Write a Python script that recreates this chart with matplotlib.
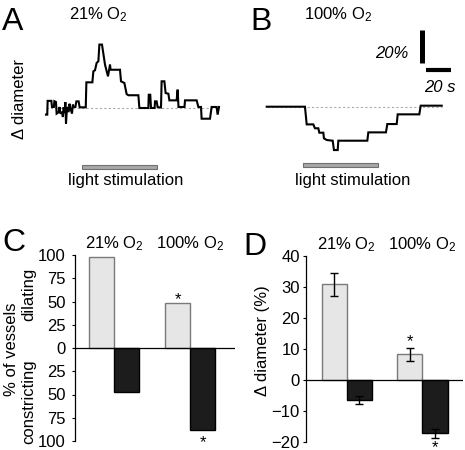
import matplotlib
matplotlib.use('Agg')
import matplotlib.pyplot as plt
from matplotlib.patches import Rectangle

plt.rcParams['font.family'] = ['Liberation Sans', 'DejaVu Sans']
plt.rcParams['font.size'] = 12

W, H = 465, 450

# --- traces (time in s, change in diameter in %) ---
trace_a_t = [0, 1.0, 1.3, 4.3, 4.8, 6.3, 6.7, 8.0, 8.5, 10.1,
             10.8, 11.5, 12.8, 13.5, 14.1, 14.8, 15.5, 16.0, 16.8, 18.1,
             18.8, 19.5, 20.8, 21.5, 22.1, 23.5, 24.3, 26.1, 26.9, 31.8,
             32.3, 37.1, 37.9, 39.2, 40.5, 41.9, 42.7, 44.8, 47.2, 49.6,
             51.2, 51.7, 59.2, 60.0, 62.7, 64.5, 65.9, 73.9, 74.7, 81.9,
             82.2, 83.4, 84.0, 86.9, 87.2, 88.5, 89.3, 92.0, 92.5, 94.7,
             95.7, 97.9, 98.7, 104.5, 105.3, 106.0, 110.8, 111.2, 120.5, 121.9,
             124.0, 124.5, 131.2, 132.5, 136.5, 137.3, 138.4]
trace_a_v = [-3.9, -3.9, 4.2, 4.2, 0.6, 0.6, 4.0, 3.5, -3.3, -2.5,
             0.6, -3.3, -2.4, -5.3, 0.5, -3.0, 3.5, -9.2, 0.6, -2.4,
             2.5, 0.0, -3.3, 2.0, 0.6, 0.6, 3.9, 3.9, 0.4, 0.4,
             15.1, 15.1, 21.6, 22.2, 26.5, 27.5, 37.3, 37.3, 25.5, 18.6,
             25.5, 22.5, 22.5, 15.7, 14.7, 8.2, 7.5, 7.5, 0.0, 0.0,
             7.8, 7.8, 0.0, 0.0, 3.9, 3.9, 0.5, 0.3, 15.7, 15.7,
             8.8, 8.4, 4.5, 4.5, 10.8, 0.6, 0.6, 4.5, 4.5, 0.6,
             0.6, -6.3, -6.3, 0.6, 0.6, -3.9, 0.6]

trace_b_t = [0, 30.6, 32.0, 37.3, 38.6, 41.3, 42.1, 45.3, 45.8, 48.0, 52.8, 53.8,
             56.8, 57.3, 80.5, 81.3, 95.4, 96.5, 104.0, 104.8, 122.1, 123.2, 140.0]
trace_b_v = [0, 0, -10.4, -10.4, -12.7, -12.7, -15.3, -15.3, -18.6, -19.6, -20.0, -25.5,
             -25.5, -20.0, -20.0, -15.1, -15.1, -10.2, -10.2, -4.5, -4.5, 0.6, 0.6]

stim_on, stim_off = 29, 89

# --- summary bars ---
group_labels = [r'21% $\mathregular{O_2}$', r'100% $\mathregular{O_2}$']
pct_dilating = [98, 48]
pct_constricting = [47, 88]
diam_dilating = [30.9, 8.3]
diam_dilating_err = [3.7, 2.1]
diam_constricting = [-6.5, -17.2]
diam_constricting_err = [1.3, 1.5]
c_ticks = [-100, -75, -50, -25, 0, 25, 50, 75, 100]
d_ticks = [-20, -10, 0, 10, 20, 30, 40]

light = '#e6e6e6'
dark = '#1c1c1c'


def rect(left, top, right, bottom):
    return [left / W, 1 - bottom / H, (right - left) / W, (bottom - top) / H]


def ftext(x, y, s, **kw):
    fig.text(x / W, 1 - y / H, s, **kw)


fig = plt.figure(figsize=(W / 100, H / 100), dpi=100)

# --- A and B: traces ---
axA = fig.add_axes(rect(41, 23, 233.5, 184.5))
axB = fig.add_axes(rect(261.7, 21.7, 454.2, 183.2))
for ax, t, v in [(axA, trace_a_t, trace_a_v), (axB, trace_b_t, trace_b_v)]:
    ax.plot([0, t[-1]], [0, 0], color='#aaaaaa', lw=0.8, ls=(0, (2, 2)))
    ax.plot(t, v, color='black', lw=1.5, solid_joinstyle='miter')
    ax.add_patch(Rectangle((stim_on, -35.7), stim_off - stim_on, 2.4,
                           facecolor='#a8a8a8', edgecolor='#707070', lw=0.8))
    ax.set_xlim(-4, 150)
    ax.set_ylim(-45, 50)
    ax.axis('off')

# scale bars
axB.plot([124, 124], [25.5, 45.3], color='black', lw=3.6, solid_capstyle='butt')
axB.plot([127.4, 147.4], [21.4, 21.4], color='black', lw=3.0, solid_capstyle='butt')
ftext(408, 53, '20%', ha='right', va='center', style='italic')
ftext(424, 87, '20 s', ha='left', va='center', style='italic')

ftext(2, 22, 'A', fontsize=23, ha='left', va='center')
ftext(98, 15, group_labels[0], ha='center', va='center')
ftext(20, 99, 'Δ diameter', rotation=90, ha='center', va='center')
ftext(125.5, 181, 'light stimulation', ha='center', va='center')

ftext(250, 22, 'B', fontsize=23, ha='left', va='center')
ftext(338.5, 15, group_labels[1], ha='center', va='center')
ftext(352.5, 181, 'light stimulation', ha='center', va='center')

# --- C and D: bar charts ---
pos = [0, 1]
bw = 0.33
axC = fig.add_axes(rect(75, 255, 235, 441))
axC.bar([p - bw / 2 for p in pos], pct_dilating, bw, color=light, edgecolor='#7a7a7a', lw=1)
axC.bar([p + bw / 2 for p in pos], [-x for x in pct_constricting], bw, color=dark,
        edgecolor='black', lw=1)
axC.set_xlim(-0.52, 1.59)
axC.set_ylim(-100, 100)
axC.set_yticks(c_ticks)
axC.set_yticklabels([str(abs(x)) for x in c_ticks])
axC.annotate('*', (1 - bw / 2, pct_dilating[1]), xytext=(0, 2.4), textcoords='offset points',
             ha='center', va='center')
axC.annotate('*', (1 + bw / 2, -pct_constricting[1]), xytext=(0, -9.4), textcoords='offset points',
             ha='center', va='center')

axD = fig.add_axes(rect(306, 256, 462.7, 442))
axD.bar([p - bw / 2 for p in pos], diam_dilating, bw, color=light, edgecolor='#7a7a7a', lw=1,
        yerr=diam_dilating_err, capsize=3, error_kw=dict(lw=1, capthick=1))
axD.bar([p + bw / 2 for p in pos], diam_constricting, bw, color=dark, edgecolor='black', lw=1,
        yerr=diam_constricting_err, capsize=3, error_kw=dict(lw=1, capthick=1))
axD.set_xlim(-0.535, 1.53)
axD.set_ylim(-20, 40)
axD.set_yticks(d_ticks)
axD.annotate('*', (1 + bw / 2, diam_constricting[1] - diam_constricting_err[1]), xytext=(0, -7.2),
             textcoords='offset points', ha='center', va='center', annotation_clip=False)
axD.annotate('*', (1 - bw / 2, diam_dilating[1] + diam_dilating_err[1]), xytext=(0, 4.1),
             textcoords='offset points', ha='center', va='center')

for ax in (axC, axD):
    ax.axhline(0, color='black', lw=0.9)
    for s in ('top', 'right', 'bottom'):
        ax.spines[s].set_visible(False)
    ax.spines['left'].set_linewidth(0.9)
    ax.set_xticks([])
    ax.tick_params(axis='y', direction='out', length=2.5, width=0.8, labelsize=12)
    for p, lab in zip(pos, group_labels):
        ax.annotate(lab, (p, 1), xycoords=('data', 'axes fraction'), xytext=(0, 8.5),
                    textcoords='offset points', ha='center', va='center', annotation_clip=False)
axC.tick_params(axis='y', pad=4)
axD.tick_params(axis='y', pad=2)

ftext(2, 243, 'C', fontsize=23, ha='left', va='center')
ftext(11, 349, '% of vessels', rotation=90, ha='center', va='center')
ftext(29, 294.5, 'dilating', rotation=90, ha='center', va='center')
ftext(29, 401.5, 'constricting', rotation=90, ha='center', va='center')

ftext(243, 247, 'D', fontsize=23, ha='left', va='center')
ftext(262, 341, 'Δ diameter (%)', rotation=90, ha='center', va='center')

fig.savefig('out.png', dpi=100)
